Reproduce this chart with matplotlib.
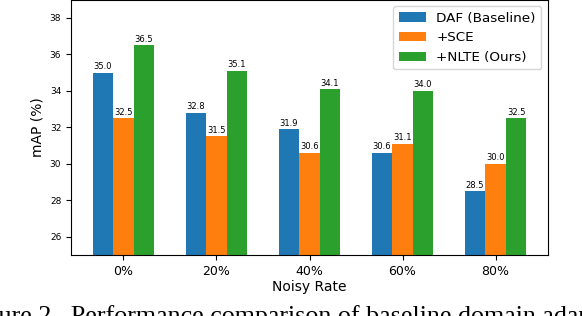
import matplotlib.pyplot as plt
import numpy as np

# noisy rate groups and mAP values
rates = ["0%", "20%", "40%", "60%", "80%"]
daf = [35.0, 32.8, 31.9, 30.6, 28.5]
sce = [32.5, 31.5, 30.6, 31.1, 30.0]
nlte = [36.5, 35.1, 34.1, 34.0, 32.5]
series_names = ["DAF (Baseline)", "+SCE", "+NLTE (Ours)"]
caption = "Figure 2.  Performance comparison of baseline domain adaptation"

fig = plt.figure(figsize=(5.82, 3.16), dpi=100)
ax = fig.add_axes([71 / 582, 61 / 316, 477 / 582, 255.5 / 316])

x = np.arange(len(rates))
w = 0.22
for k, (vals, name) in enumerate(zip([daf, sce, nlte], series_names)):
    bars = ax.bar(x + (k - 1) * w, vals, w, label=name)
    ax.bar_label(bars, fmt="%.1f", fontsize=6, padding=1)

ax.set_ylim(25, 39)
ax.set_xticks(x)
ax.set_xticklabels(rates, fontsize=9)
ax.tick_params(axis="y", labelsize=6.5)
ax.set_ylabel("mAP (%)", fontsize=10)
ax.set_xlabel("Noisy Rate", fontsize=10, labelpad=2)
ax.legend(loc="upper right", fontsize=9.7)

# caption, cropped at the left and bottom like the source image
fig.text(-36 / 582, -7 / 316, caption, fontsize=18.7, family="Liberation Serif", va="baseline")

fig.savefig("out.png", dpi=100)
